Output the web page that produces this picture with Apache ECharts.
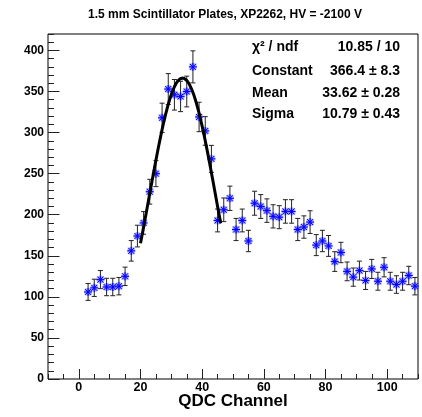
<!DOCTYPE html>
<html>
<head>
<meta charset="utf-8">
<script src="https://cdn.jsdelivr.net/npm/echarts@6/dist/echarts.min.js"></script>
<style>
html, body { margin: 0; padding: 0; background: #fff; }
#main { width: 422px; height: 417px; }
</style>
</head>
<body>
<div id="main"></div>
<script>
var myChart = echarts.init(document.getElementById('main'));

// histogram bins (centre of each 2-channel bin), counts and errors
var channels = [3, 5, 7, 9, 11, 13, 15, 17, 19, 21, 23, 25, 27, 29, 31, 33, 35, 37, 39, 41,
    43, 45, 47, 49, 51, 53, 55, 57, 59, 61, 63, 65, 67, 69, 71, 73, 75, 77, 79, 81,
    83, 85, 87, 89, 91, 93, 95, 97, 99, 101, 103, 105, 107, 109];
var counts = [106, 111, 121, 112, 112, 113, 125, 156, 174, 190, 228, 250, 318, 353, 346, 344, 350, 380, 319, 302,
    268, 193, 206, 220, 182, 193, 168, 214, 210, 205, 198, 197, 204, 204, 182, 185, 191, 163, 168, 162,
    143, 154, 131, 124, 132, 120, 134, 119, 136, 119, 115, 119, 126, 113];
var errors = [10.3, 10.5, 11.0, 10.6, 10.6, 10.6, 11.2, 12.5, 13.2, 13.8, 15.1, 15.8, 17.8, 18.8, 18.6, 18.5, 18.7, 19.5, 17.9, 17.4,
    16.4, 13.9, 14.4, 14.8, 13.5, 13.9, 13.0, 14.6, 14.5, 14.3, 14.1, 14.0, 14.3, 14.3, 13.5, 13.6, 13.8, 12.8, 13.0, 12.7,
    12.0, 12.4, 11.4, 11.1, 11.5, 11.0, 11.6, 10.9, 11.7, 10.9, 10.7, 10.9, 11.2, 10.6];

// gaussian fit: constant, mean, sigma and fit range
var fitParams = [366.4, 33.62, 10.79];
var fitRange = [20, 46];

var xMajorTicks = [0, 20, 40, 60, 80, 100];
var yMajorTicks = [0, 50, 100, 150, 200, 250, 300, 350, 400];

var statNames = ['χ² / ndf', 'Constant', 'Mean', 'Sigma'];
var statValues = ['10.85 / 10', '366.4 ± 8.3', '33.62 ± 0.28', '10.79 ± 0.43'];

var titleText = '1.5 mm Scintillator Plates, XP2262, HV = -2100 V';
var xTitle = 'QDC Channel';

var FONT = '"Liberation Sans", Arial, Helvetica, sans-serif';

var histData = channels.map(function (c, i) { return [c, counts[i], errors[i]]; });

var fitData = [];
for (var x = fitRange[0]; x <= fitRange[1] + 1e-9; x += 0.25) {
    var d = (x - fitParams[1]) / fitParams[2];
    fitData.push([x, fitParams[0] * Math.exp(-0.5 * d * d)]);
}

function renderPoint(params, api) {
    var x = api.value(0), y = api.value(1), e = api.value(2);
    var c = api.coord([x, y]);
    var top = api.coord([x, y + e])[1];
    var bot = api.coord([x, y - e])[1];
    var cw = 2.5, s = 4, dd = 3;
    var bar = { stroke: '#222', lineWidth: 1 };
    var children = [
        { type: 'line', shape: { x1: c[0], y1: top, x2: c[0], y2: bot }, style: bar },
        { type: 'line', shape: { x1: c[0] - cw, y1: top, x2: c[0] + cw, y2: top }, style: bar },
        { type: 'line', shape: { x1: c[0] - cw, y1: bot, x2: c[0] + cw, y2: bot }, style: bar }
    ];
    var star = [
        [c[0] - s, c[1], c[0] + s, c[1]],
        [c[0], c[1] - s, c[0], c[1] + s],
        [c[0] - dd, c[1] - dd, c[0] + dd, c[1] + dd],
        [c[0] - dd, c[1] + dd, c[0] + dd, c[1] - dd]
    ];
    star.forEach(function (l) {
        children.push({ type: 'line', shape: { x1: l[0], y1: l[1], x2: l[2], y2: l[3] },
            style: { stroke: 'rgba(100,100,255,0.5)', lineWidth: 2.6 } });
    });
    star.forEach(function (l) {
        children.push({ type: 'line', shape: { x1: l[0], y1: l[1], x2: l[2], y2: l[3] },
            style: { stroke: '#0000ff', lineWidth: 1 } });
    });
    return { type: 'group', children: children };
}

var graphics = [
    { type: 'text', x: 225, y: 15, style: { text: titleText, font: 'bold 12px ' + FONT, fill: '#000',
        textAlign: 'center', textVerticalAlign: 'middle' } },
    { type: 'text', x: 233, y: 401, style: { text: xTitle, font: 'bold 17px ' + FONT, fill: '#000',
        textAlign: 'center', textVerticalAlign: 'middle' } }
];
var statY = [47, 71.5, 93, 114];
statNames.forEach(function (n, i) {
    graphics.push({ type: 'text', x: 252, y: statY[i], z: 10, style: { text: n, font: 'bold 14px ' + FONT,
        fill: '#000', textAlign: 'left', textVerticalAlign: 'middle' } });
    graphics.push({ type: 'text', x: 400, y: statY[i], z: 10, style: { text: statValues[i], font: 'bold 14px ' + FONT,
        fill: '#000', textAlign: 'right', textVerticalAlign: 'middle' } });
});

var option = {
    backgroundColor: '#fff',
    animation: false,
    grid: { left: 48, right: 4, top: 34, bottom: 38, show: true, borderColor: '#000', borderWidth: 1 },
    xAxis: [{
        type: 'value', min: -10, max: 110, position: 'bottom',
        axisLine: { show: false, onZero: false },
        axisTick: { show: true, inside: true, length: 10, customValues: xMajorTicks, lineStyle: { color: '#222' } },
        axisLabel: { customValues: xMajorTicks, margin: 2, color: '#000', fontFamily: FONT, fontWeight: 'bold', fontSize: 12.5 },
        splitLine: { show: false }
    }, {
        type: 'value', min: -10, max: 110, interval: 5, position: 'bottom',
        axisLine: { show: false, onZero: false },
        axisTick: { show: true, inside: true, length: 5, lineStyle: { color: '#222' } },
        axisLabel: { show: false },
        splitLine: { show: false }
    }],
    yAxis: [{
        type: 'value', min: 0, max: 420, position: 'left',
        axisLine: { show: false, onZero: false },
        axisTick: { show: true, inside: true, length: 11.5, customValues: yMajorTicks, lineStyle: { color: '#222' } },
        axisLabel: { customValues: yMajorTicks, margin: 4, color: '#000', fontFamily: FONT, fontWeight: 'bold', fontSize: 12 },
        splitLine: { show: false }
    }, {
        type: 'value', min: 0, max: 420, interval: 10, position: 'left',
        axisLine: { show: false, onZero: false },
        axisTick: { show: true, inside: true, length: 6, lineStyle: { color: '#222' } },
        axisLabel: { show: false },
        splitLine: { show: false }
    }],
    graphic: graphics,
    series: [{
        type: 'custom',
        xAxisIndex: 0, yAxisIndex: 0,
        renderItem: renderPoint,
        data: histData,
        z: 2
    }, {
        type: 'line',
        xAxisIndex: 0, yAxisIndex: 0,
        data: fitData,
        showSymbol: false,
        lineStyle: { color: '#000', width: 3 },
        z: 3
    }]
};

myChart.setOption(option);
</script>
</body>
</html>
